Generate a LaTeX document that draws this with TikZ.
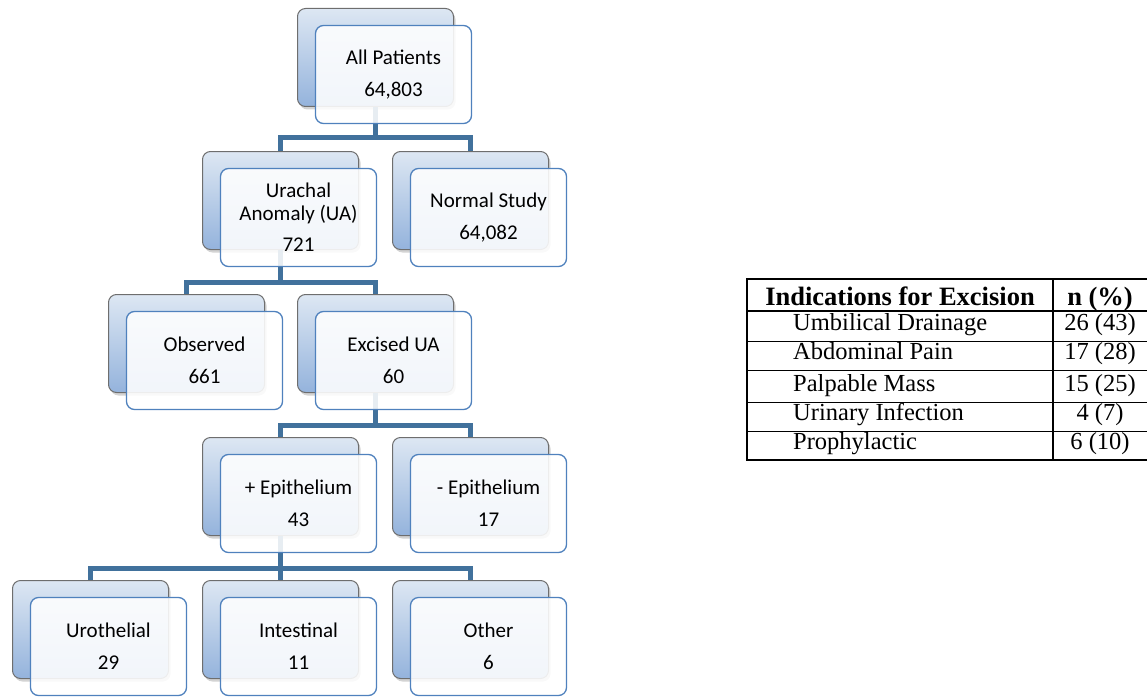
\documentclass[tikz,border=0pt]{standalone}
\usepackage{fontspec}
\setmainfont{Liberation Serif}
\newfontfamily\boxfont{Carlito}
\usetikzlibrary{shadows}
\definecolor{connblue}{HTML}{41719C}
\definecolor{frontedge}{HTML}{4F81BD}
\definecolor{backtop}{HTML}{DDE7F3}
\definecolor{backbot}{HTML}{94B3DC}
\definecolor{backedge}{HTML}{6E6E6E}
\begin{document}
\begin{tikzpicture}[x=1pt, y=-1pt,
    backbox/.style={draw=backedge, line width=1pt, rounded corners=8pt,
      top color=backtop, bottom color=backbot, anchor=north west,
      minimum width=156pt, minimum height=98pt,
      drop shadow={shadow xshift=2pt, shadow yshift=-3pt, opacity=0.35}},
    frontbox/.style={draw=frontedge, line width=1.3pt, rounded corners=8pt,
      fill=white, fill opacity=0.88, text opacity=1,
      minimum width=156pt, minimum height=98pt, align=center,
      font=\boxfont\fontsize{21}{23}\selectfont},
    conn/.style={draw=connblue, line width=5pt},
    cell/.style={font=\fontsize{24.5}{29}\selectfont, inner sep=0pt},
    headcell/.style={cell, font=\fontsize{26.5}{29}\selectfont\bfseries}]
  \useasboundingbox (0,0) rectangle (1147,698);
  % back boxes
  \foreach \n/\x/\y in {all/297/8, ua/202/151, ns/392/151, obs/108/294, exc/297/294,
      pos/202/437, neg/392/437, uro/12/580, int/202/580, oth/392/580}
    \node[backbox] (\n b) at (\x,\y) {};
  % connectors
  \coordinate (bus1) at (allb.south |- 0,137);
  \coordinate (bus2) at (uab.south |- 0,282);
  \coordinate (bus3) at (excb.south |- 0,425);
  \coordinate (bus4) at (posb.south |- 0,568);
  \draw[conn] (allb.south) -- (bus1);
  \draw[conn] (uab.north) |- (bus1) -| (nsb.north);
  \draw[conn] (uab.south) -- (bus2);
  \draw[conn] (obsb.north) |- (bus2) -| (excb.north);
  \draw[conn] (excb.south) -- (bus3);
  \draw[conn] (posb.north) |- (bus3) -| (negb.north);
  \draw[conn] (posb.south) -- (intb.north);
  \draw[conn] (urob.north) |- (bus4) -| (othb.north);
  % front boxes
  \node[frontbox] (all) at ([shift={(18pt,-17pt)}]allb.center) {All Patients\\[9pt]64,803};
  \node[frontbox] (ua) at ([shift={(18pt,-17pt)}]uab.center) {Urachal\\Anomaly (UA)\\[8pt]721};
  \node[frontbox] (ns) at ([shift={(18pt,-17pt)}]nsb.center) {Normal Study\\[9pt]64,082};
  \node[frontbox] (obs) at ([shift={(18pt,-17pt)}]obsb.center) {Observed\\[9pt]661};
  \node[frontbox] (exc) at ([shift={(18pt,-17pt)}]excb.center) {Excised UA\\[9pt]60};
  \node[frontbox] (pos) at ([shift={(18pt,-17pt)}]posb.center) {+ Epithelium\\[9pt]43};
  \node[frontbox] (neg) at ([shift={(18pt,-17pt)}]negb.center) {- Epithelium\\[9pt]17};
  \node[frontbox] (uro) at ([shift={(18pt,-17pt)}]urob.center) {Urothelial\\[9pt]29};
  \node[frontbox] (int) at ([shift={(18pt,-17pt)}]intb.center) {Intestinal\\[9pt]11};
  \node[frontbox] (oth) at ([shift={(18pt,-17pt)}]othb.center) {Other\\[9pt]6};
  % table
  \draw[line width=1.3pt] (1147,279) -- (747,279) -- (747,460) -- (1147,460);
  \draw[line width=2pt] (747,311) -- (1147,311);
  \foreach \y in {341,370,402,431}
    \draw[line width=1pt] (747,\y) -- (1147,\y);
  \draw[line width=1.3pt] (1053,279) -- (1053,460);
  \node[headcell, anchor=base] (head1) at (900,305) {Indications for Excision};
  \node[headcell, anchor=base] (head2) at (1100,305) {n (\%)};
  \foreach \lbl/\val/\yb [count=\i] in {Umbilical Drainage/26 (43)/330,
      Abdominal Pain/17 (28)/359, Palpable Mass/15 (25)/391,
      Urinary Infection/4 (7)/420, Prophylactic/6 (10)/449}
  {
    \node[cell, anchor=base west] (ind\i) at (793,\yb) {\lbl};
    \node[cell, anchor=base] (cnt\i) at (1100,\yb) {\val};
  }
\end{tikzpicture}
\end{document}
